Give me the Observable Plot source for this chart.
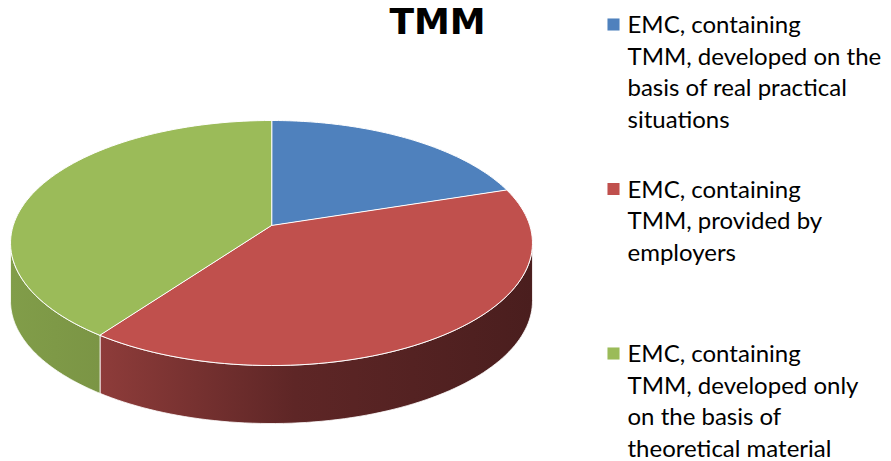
<!DOCTYPE html>
<html><head><meta charset="utf-8">
<script src="https://cdn.jsdelivr.net/npm/d3@7"></script>
<script src="https://cdn.jsdelivr.net/npm/@observablehq/plot@0.6"></script>
<style>body{margin:0;background:#fff}</style>
</head><body><div id="chart"></div>
<script>
const title = "TMM";
const categories = [
  "EMC, containing TMM, developed on the basis of real practical situations",
  "EMC, containing TMM, provided by employers",
  "EMC, containing TMM, developed only on the basis of theoretical material"
];
const legendLabels = [
  "EMC, containing\nTMM, developed on the\nbasis of real practical\nsituations",
  "EMC, containing\nTMM, provided by\nemployers",
  "EMC, containing\nTMM, developed only\non the basis of\ntheoretical material"
];
const shares = [20, 40, 40];
const colors = ["#4F81BD", "#C0504D", "#9BBB59"];

// projection of a tilted disc (perspective) into pixel space
const W = 891, H = 461;
const CX = 271, B = 225, A = 87.86, C = -0.1429, D = 258.3, DEPTH = 58;
function proj(theta, r, h) {
  const s = Math.sin(theta) * r, co = Math.cos(theta) * r;
  const den = 1 + C * s;
  return [CX + D * co / den, (A * s + B) / den + h];
}
const total = d3.sum(shares);
let cum = 0;
const slices = shares.map((v, i) => {
  const a0 = -Math.PI / 2 + 2 * Math.PI * cum / total;
  cum += v;
  const a1 = -Math.PI / 2 + 2 * Math.PI * cum / total;
  return {i, a0, a1};
});
const N = 80;
const topRows = [], sideRows = [];
const vis0 = Math.asin(-C), vis1 = Math.PI - Math.asin(-C);
slices.forEach(({i, a0, a1}) => {
  const [ax, ay] = proj(0, 0, 0);
  topRows.push({slice: i, x: ax, y: ay});
  for (let k = 0; k <= N; k++) {
    const t = a0 + (a1 - a0) * k / N;
    const [x, y] = proj(t, 1, 0);
    topRows.push({slice: i, x, y});
  }
  const lo = Math.max(a0, vis0), hi = Math.min(a1, vis1);
  if (hi > lo) {
    for (let k = 0; k <= N; k++) {
      const t = lo + (hi - lo) * k / N;
      const [x, y] = proj(t, 1, 0);
      sideRows.push({slice: i, x, y});
    }
    for (let k = N; k >= 0; k--) {
      const t = lo + (hi - lo) * k / N;
      const [x, y] = proj(t, 1, DEPTH);
      sideRows.push({slice: i, x, y});
    }
  }
});

const legendRows = legendLabels.map((label, i) => ({label, color: colors[i], y: 24 + i * 164.5}));
const FONT = "Lato, 'Open Sans', sans-serif";

const marks = [];
slices.forEach(({i}) => {
  const rows = sideRows.filter(d => d.slice === i);
  if (rows.length) marks.push(Plot.line(rows, {x: "x", y: "y", fill: `url(#side${i})`, stroke: "#ffffff", strokeWidth: 0.8, curve: "linear-closed"}));
});
slices.forEach(({i}) => {
  marks.push(Plot.line(topRows.filter(d => d.slice === i), {x: "x", y: "y", fill: colors[i], stroke: "#ffffff", strokeWidth: 1, curve: "linear-closed"}));
});
marks.push(Plot.text([title], {x: () => 437, y: () => 8, text: d => d, fontFamily: "'DejaVu Sans', sans-serif", fontWeight: "bold", fontSize: 36, lineAnchor: "top", textAnchor: "middle", fill: "#000"}));
marks.push(Plot.dot(legendRows, {x: () => 613, y: "y", fill: "color", symbol: "square", r: 6.8, stroke: null}));
marks.push(Plot.text(legendRows, {x: () => 627, y: d => d.y - 14, text: "label", fontFamily: FONT, fontSize: 24, lineHeight: 1.32, lineAnchor: "top", textAnchor: "start", fill: "#000"}));

const svg = Plot.plot({
  width: W, height: H, margin: 0,
  x: {domain: [0, W], range: [0, W], axis: null},
  y: {domain: [0, H], range: [0, H], axis: null},
  color: {type: "identity"},
  style: {background: "#fff", overflow: "visible"},
  marks
});

const defs = d3.select(svg).insert("defs", ":first-child");
const sideStops = [
  [["0", "#3f6796"], ["1", "#2c4a70"]],
  [["0", "#8e3c3a"], ["0.45", "#5e2626"], ["1", "#4a1e1e"]],
  [["0", "#819d49"], ["1", "#7b9545"]]
];
slices.forEach(({i, a0, a1}) => {
  const lo = Math.max(a0, vis0), hi = Math.min(a1, vis1);
  const xs = [proj(lo, 1, 0)[0], proj(hi, 1, 0)[0]];
  const g = defs.append("linearGradient").attr("id", `side${i}`).attr("gradientUnits", "userSpaceOnUse")
    .attr("x1", d3.min(xs)).attr("x2", d3.max(xs)).attr("y1", 0).attr("y2", 0);
  sideStops[i].forEach(([o, c]) => g.append("stop").attr("offset", o).attr("stop-color", c));
});
const f = defs.append("filter").attr("id", "sh").attr("x", "-10%").attr("y", "-10%").attr("width", "120%").attr("height", "130%");
f.append("feDropShadow").attr("dx", 2).attr("dy", 2).attr("stdDeviation", 2).attr("flood-color", "#000").attr("flood-opacity", 0.35);
d3.select(svg).selectAll('path[fill^="url"]').attr("filter", "url(#sh)");

document.getElementById("chart").appendChild(svg);
</script>
</body></html>
